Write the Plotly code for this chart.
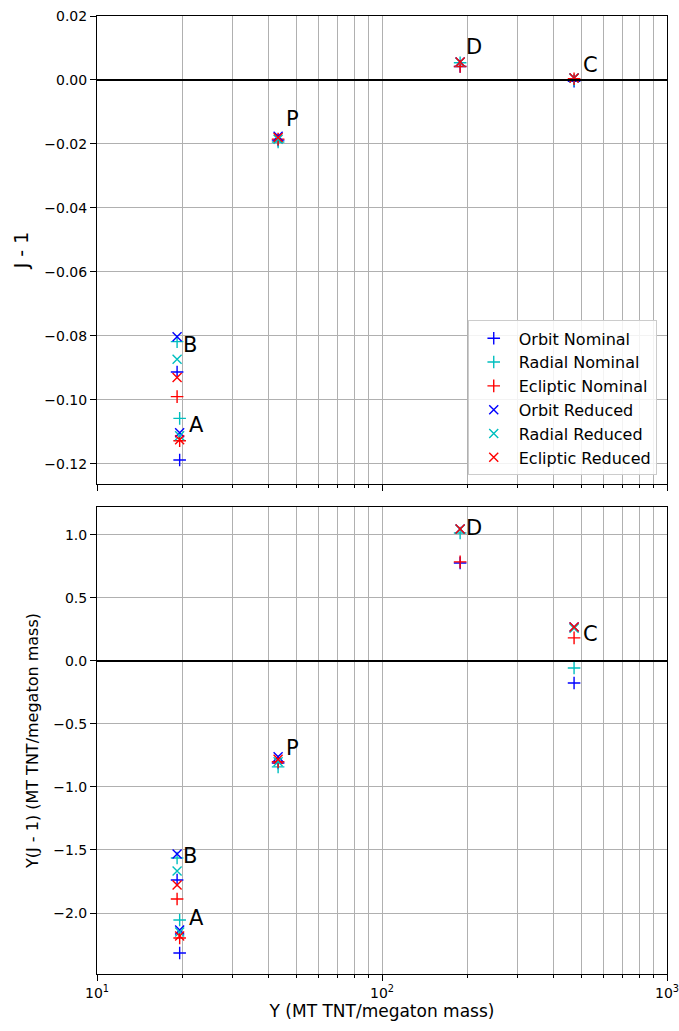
import math
import plotly.graph_objects as go
from plotly.subplots import make_subplots

targets = ["A", "B", "P", "D", "C"]
yield_mt = [19.5, 19.1, 43.2, 188.0, 472.0]

series_names = ["Orbit Nominal", "Radial Nominal", "Ecliptic Nominal",
                "Orbit Reduced", "Radial Reduced", "Ecliptic Reduced"]
series_colors = ["blue", "#00bfbf", "red", "blue", "#00bfbf", "red"]
series_symbols = ["cross-thin", "cross-thin", "cross-thin", "x-thin", "x-thin", "x-thin"]

# J - 1 (top panel)
j_orbit_nom = [-0.1188, -0.0913, -0.0188, 0.0042, -0.0004]
j_radial_nom = [-0.1058, -0.0818, -0.0194, 0.0054, -0.0001]
j_ecliptic_nom = [-0.1128, -0.0990, -0.0185, 0.0042, 0.0004]
j_orbit_red = [-0.1103, -0.0803, -0.0176, 0.0056, 0.0006]
j_radial_red = [-0.1112, -0.0873, -0.0185, 0.0055, 0.0006]
j_ecliptic_red = [-0.1125, -0.0930, -0.0180, 0.0056, 0.0006]

# Y(J - 1) (bottom panel)
yj_orbit_nom = [-2.317, -1.738, -0.81, 0.778, -0.175]
yj_radial_nom = [-2.056, -1.563, -0.84, 1.016, -0.056]
yj_ecliptic_nom = [-2.198, -1.889, -0.80, 0.786, 0.183]
yj_orbit_red = [-2.135, -1.532, -0.76, 1.048, 0.27]
yj_radial_red = [-2.151, -1.667, -0.80, 1.045, 0.26]
yj_ecliptic_red = [-2.183, -1.778, -0.78, 1.048, 0.27]

top_series = [j_orbit_nom, j_radial_nom, j_ecliptic_nom, j_orbit_red, j_radial_red, j_ecliptic_red]
bot_series = [yj_orbit_nom, yj_radial_nom, yj_ecliptic_nom, yj_orbit_red, yj_radial_red, yj_ecliptic_red]

# label anchor points (data coords)
top_label_x = [22.4, 21.2, 48.7, 210.0, 537.0]
top_label_y = [-0.108, -0.083, -0.0123, 0.0103, 0.0048]
bot_label_x = [22.4, 21.2, 48.7, 210.0, 537.0]
bot_label_y = [-2.04, -1.544, -0.69, 1.056, 0.214]

x_major = [10, 100, 1000]
x_major_text = ["10<sup>1</sup>", "10<sup>2</sup>", "10<sup>3</sup>"]
x_minor = [m * d for d in (10, 100) for m in range(2, 10)]

FONT = "DejaVu Sans"

fig = make_subplots(rows=2, cols=1, shared_xaxes=False, vertical_spacing=0.024)

for i, name in enumerate(series_names):
    mk = dict(symbol=series_symbols[i], size=9, color=series_colors[i],
              line=dict(color=series_colors[i], width=1.4))
    fig.add_trace(go.Scatter(x=yield_mt, y=top_series[i], mode="markers", name=name,
                             marker=mk, showlegend=True), row=1, col=1)
for i, name in enumerate(series_names):
    mk = dict(symbol=series_symbols[i], size=9, color=series_colors[i],
              line=dict(color=series_colors[i], width=1.4))
    fig.add_trace(go.Scatter(x=yield_mt, y=bot_series[i], mode="markers", name=name,
                             marker=mk, showlegend=False), row=2, col=1)

for t, lx, ly in zip(targets, top_label_x, top_label_y):
    fig.add_annotation(x=math.log10(lx), y=ly, xref="x", yref="y", text=t, showarrow=False,
                       font=dict(family=FONT, size=21, color="black"))
for t, lx, ly in zip(targets, bot_label_x, bot_label_y):
    fig.add_annotation(x=math.log10(lx), y=ly, xref="x2", yref="y2", text=t, showarrow=False,
                       font=dict(family=FONT, size=21, color="black"))

# zero lines
fig.add_shape(type="line", xref="x domain", yref="y", x0=0, x1=1, y0=0, y1=0,
              line=dict(color="black", width=2))
fig.add_shape(type="line", xref="x2 domain", yref="y2", x0=0, x1=1, y0=0, y1=0,
              line=dict(color="black", width=2))

xaxis_common = dict(type="log", range=[1, 3], showline=True, linecolor="black", linewidth=1,
                    mirror=True, ticks="outside", ticklen=6, tickcolor="black", automargin=False,
                    ticklabeloverflow="allow",
                    showgrid=True, gridcolor="#b0b0b0", gridwidth=1, zeroline=False,
                    tickmode="array", tickvals=x_major, ticktext=x_major_text,
                    minor=dict(tickmode="array", tickvals=x_minor, ticks="outside", ticklen=3,
                               tickcolor="black", showgrid=True, gridcolor="#b0b0b0", gridwidth=1),
                    tickfont=dict(family=FONT, size=14, color="black"))

fig.update_xaxes(**xaxis_common, showticklabels=False, row=1, col=1)
fig.update_xaxes(**xaxis_common, showticklabels=True, row=2, col=1,
                 title=dict(text="Y (MT TNT/megaton mass)", font=dict(family=FONT, size=17, color="black"),
                            standoff=4))

yaxis_common = dict(showline=True, linecolor="black", linewidth=1, mirror=True, automargin=False,
                    ticklabeloverflow="allow",
                    ticks="outside", ticklen=6, tickcolor="black",
                    showgrid=True, gridcolor="#b0b0b0", gridwidth=1, zeroline=False,
                    tickfont=dict(family=FONT, size=14, color="black"))
fig.update_yaxes(**yaxis_common, range=[-0.1263, 0.02],
                 tickvals=[-0.12, -0.10, -0.08, -0.06, -0.04, -0.02, 0.0, 0.02],
                 tickformat=".2f",
                 title=dict(text="J - 1", font=dict(family=FONT, size=19, color="black"), standoff=10),
                 row=1, col=1)
fig.update_yaxes(**yaxis_common, range=[-2.484, 1.222],
                 tickvals=[-2.0, -1.5, -1.0, -0.5, 0.0, 0.5, 1.0],
                 tickformat=".1f",
                 title=dict(text="Y(J - 1) (MT TNT/megaton mass)", font=dict(family=FONT, size=16, color="black"),
                            standoff=10),
                 row=2, col=1)

fig.update_layout(
    width=679, height=1031,
    margin=dict(l=97, r=12, t=16, b=57),
    paper_bgcolor="white", plot_bgcolor="white",
    font=dict(family=FONT, size=14, color="black"),
    legend=dict(x=0.982, y=0.5205, xanchor="right", yanchor="bottom",
                bgcolor="rgba(255,255,255,0.85)", bordercolor="#cccccc", borderwidth=1,
                font=dict(family=FONT, size=16, color="black"), itemwidth=40,
                tracegroupgap=2),
)
fig.update_layout(yaxis=dict(domain=[0.5115, 1.0]), yaxis2=dict(domain=[0.0, 0.4875]))

fig.write_html("out.html")
